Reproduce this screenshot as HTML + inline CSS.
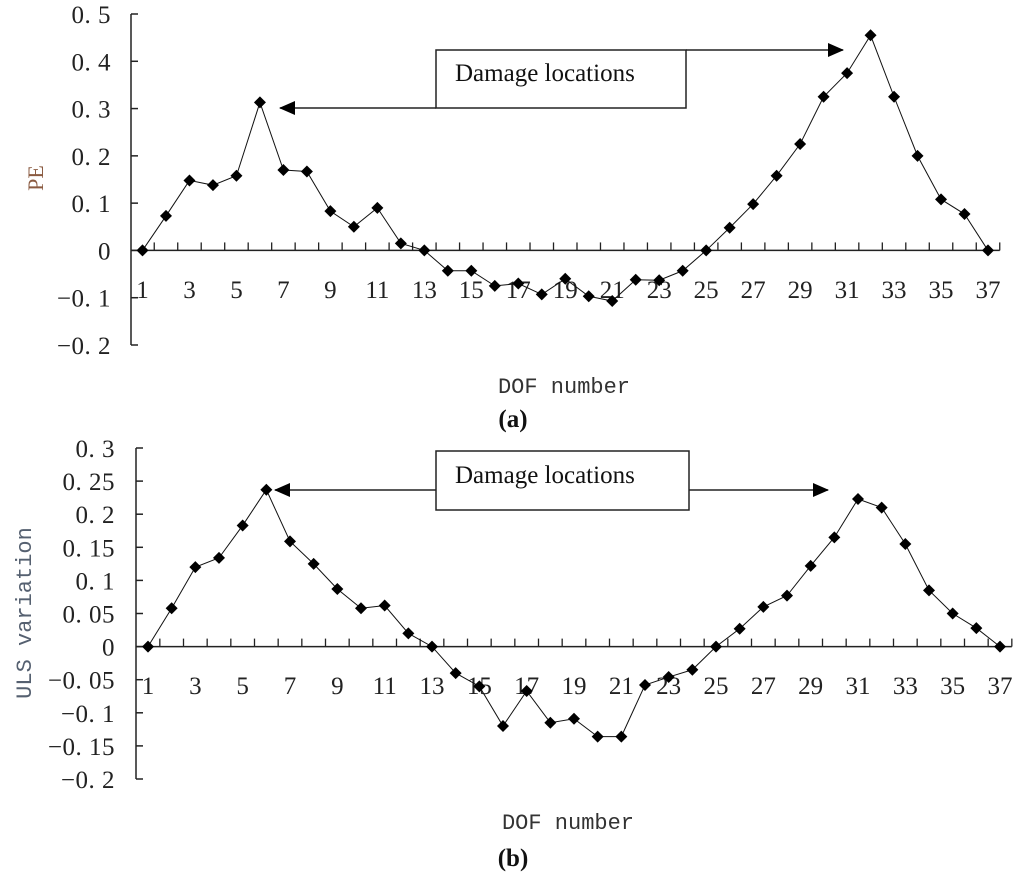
<!DOCTYPE html>
<html><head><meta charset="utf-8"><style>
html,body{margin:0;padding:0;background:#fff;}
svg{display:block;}
</style></head><body>
<svg id="svg" width="1024" height="880" viewBox="0 0 1024 880" xmlns="http://www.w3.org/2000/svg"></svg>
<script>
const dof = [];
for (let i = 1; i <= 37; i++) dof.push(i);
const peValues = [0,0.073,0.148,0.138,0.158,0.313,0.17,0.167,0.083,0.05,0.09,0.015,0,-0.043,-0.043,-0.075,-0.07,-0.093,-0.06,-0.097,-0.107,-0.062,-0.063,-0.043,0,0.048,0.098,0.158,0.225,0.325,0.375,0.455,0.325,0.2,0.108,0.077,0];
const ulsValues = [0,0.058,0.12,0.134,0.183,0.237,0.159,0.125,0.087,0.058,0.062,0.02,0,-0.04,-0.06,-0.12,-0.067,-0.115,-0.109,-0.136,-0.136,-0.058,-0.046,-0.035,0,0.027,0.06,0.077,0.122,0.165,0.223,0.21,0.155,0.085,0.05,0.028,0];
const peTicks = [0.5,0.4,0.3,0.2,0.1,0,-0.1,-0.2];
const peTickLabels = ["0. 5","0. 4","0. 3","0. 2","0. 1","0","\u22120. 1","\u22120. 2"];
const ulsTicks = [0.3,0.25,0.2,0.15,0.1,0.05,0,-0.05,-0.1,-0.15,-0.2];
const ulsTickLabels = ["0. 3","0. 25","0. 2","0. 15","0. 1","0. 05","0","\u22120. 05","\u22120. 1","\u22120. 15","\u22120. 2"];
const xTickLabels = [1,3,5,7,9,11,13,15,17,19,21,23,25,27,29,31,33,35,37];

const NS = "http://www.w3.org/2000/svg";
const svg = document.getElementById('svg');
const SERIF = 'font-family:"Liberation Serif",serif;';
function mk(tag, attrs, parent, txt) {
  const e = document.createElementNS(NS, tag);
  for (const k in attrs) e.setAttribute(k, attrs[k]);
  if (txt !== undefined) e.textContent = txt;
  (parent || svg).appendChild(e);
  return e;
}

function drawChart(cfg, name) {
  const g = mk('g', {});
  
  
  const sx = v => cfg.x1 + (v - 1) * (cfg.x37 - cfg.x1) / 36;
  const yAt = v => cfg.yTop + (cfg.vMax - v) / (cfg.vMax - cfg.vMin) * (cfg.yBot - cfg.yTop);
  const ya = mk('line', {x1:cfg.ax, y1:yAt(cfg.vMax), x2:cfg.ax, y2:yAt(cfg.vMin), stroke:'#222','stroke-width':1.5}, g);
  
  
  cfg.ticks.forEach((t, i) => {
    const y = yAt(t);
    const tk = mk('line', {x1:cfg.ax, y1:y, x2:cfg.ax + 7, y2:y, stroke:'#222','stroke-width':1.5}, g);
    
    
    const lb = mk('text', {x:cfg.labRight, y:y + 9, 'text-anchor':'end', style:SERIF + 'font-size:25px;letter-spacing:0.5px;fill:#222'}, g, cfg.labels[i]);
    
    
  });
  const y0 = yAt(0);
  const step = (cfg.x37 - cfg.x1) / 36;
  const xa = mk('line', {x1:cfg.ax, y1:y0, x2:sx(37) + step / 2, y2:y0, stroke:'#222','stroke-width':1.5}, g);
  
  
  for (let i = 1; i <= 37; i++) {
    const x = sx(i) + step / 2;
    const tk = mk('line', {x1:x, y1:y0, x2:x, y2:y0 - 8, stroke:'#222','stroke-width':1.3}, g);
    
    
  }
  xTickLabels.forEach(v => {
    const lb = mk('text', {x:sx(v), y:cfg.xLabY, 'text-anchor':'middle', style:SERIF + 'font-size:25px;fill:#222'}, g, v);
    
    
  });
  const pts = cfg.values.map((v, i) => sx(dof[i]) + ',' + yAt(v)).join(' ');
  const pl = mk('polyline', {points:pts, fill:'none', stroke:'#111', 'stroke-width':1}, g);
  
  
  cfg.values.forEach((v, i) => {
    const x = sx(dof[i]), y = yAt(v), r = 6;
    const m = mk('polygon', {points:`${x},${y-r} ${x+r},${y} ${x},${y+r} ${x-r},${y}`, fill:'#000'}, g);
    
    
  });
}

drawChart({ax:131, x1:142.5, x37:988, yTop:14, yBot:345, vMax:0.5, vMin:-0.2, ticks:peTicks, labels:peTickLabels, values:peValues, labRight:111, xLabY:298}, 'chart-a');
drawChart({ax:136, x1:148, x37:1000, yTop:448, yBot:779, vMax:0.3, vMin:-0.2, ticks:ulsTicks, labels:ulsTickLabels, values:ulsValues, labRight:115, xLabY:694}, 'chart-b');
</script>

<svg width="1024" height="880" style="position:absolute;left:0;top:0" xmlns="http://www.w3.org/2000/svg">
  <defs>
    <marker id="arr" markerWidth="16" markerHeight="14" refX="15" refY="7" orient="auto" markerUnits="userSpaceOnUse"><polygon points="0,0 16,7 0,14" fill="#000"/></marker>
  </defs>
  <g>
    <rect x="436" y="50" width="250" height="58" fill="#fff" stroke="#222" stroke-width="1.5"/>
    <text x="455" y="81" style='font-family:"Liberation Serif",serif;font-size:25px;fill:#111'>Damage locations</text>
    <line x1="436" y1="108" x2="280" y2="108" stroke="#222" stroke-width="1.5" marker-end="url(#arr)"/>
    <line x1="686" y1="50" x2="843" y2="50" stroke="#222" stroke-width="1.5" marker-end="url(#arr)"/>
  </g>
  <g>
    <rect x="436" y="451" width="253" height="59" fill="#fff" stroke="#222" stroke-width="1.5"/>
    <text x="455" y="483" style='font-family:"Liberation Serif",serif;font-size:25px;fill:#111'>Damage locations</text>
    <line x1="436" y1="490" x2="275" y2="490" stroke="#222" stroke-width="1.5" marker-end="url(#arr)"/>
    <line x1="689" y1="490" x2="828" y2="490" stroke="#222" stroke-width="1.5" marker-end="url(#arr)"/>
  </g>
  <text transform="translate(43,178) rotate(-90)" text-anchor="middle" style='font-family:"Liberation Serif",serif;font-size:22px;fill:#8a5a40'>PE</text>
  <text transform="translate(31,613) rotate(-90)" text-anchor="middle" style='font-family:"Liberation Mono",monospace;font-size:22px;fill:#556070'>ULS variation</text>
  <text x="564" y="393" text-anchor="middle" style='font-family:"Liberation Mono",monospace;font-size:22px;fill:#333'>DOF number</text>
  <text x="568" y="829" text-anchor="middle" style='font-family:"Liberation Mono",monospace;font-size:22px;fill:#333'>DOF number</text>
  <text x="513" y="427" text-anchor="middle" style='font-family:"Liberation Serif",serif;font-size:25px;font-weight:bold;fill:#111'>(a)</text>
  <text x="513" y="866" text-anchor="middle" style='font-family:"Liberation Serif",serif;font-size:25px;font-weight:bold;fill:#111'>(b)</text>
</svg>
</body></html>
